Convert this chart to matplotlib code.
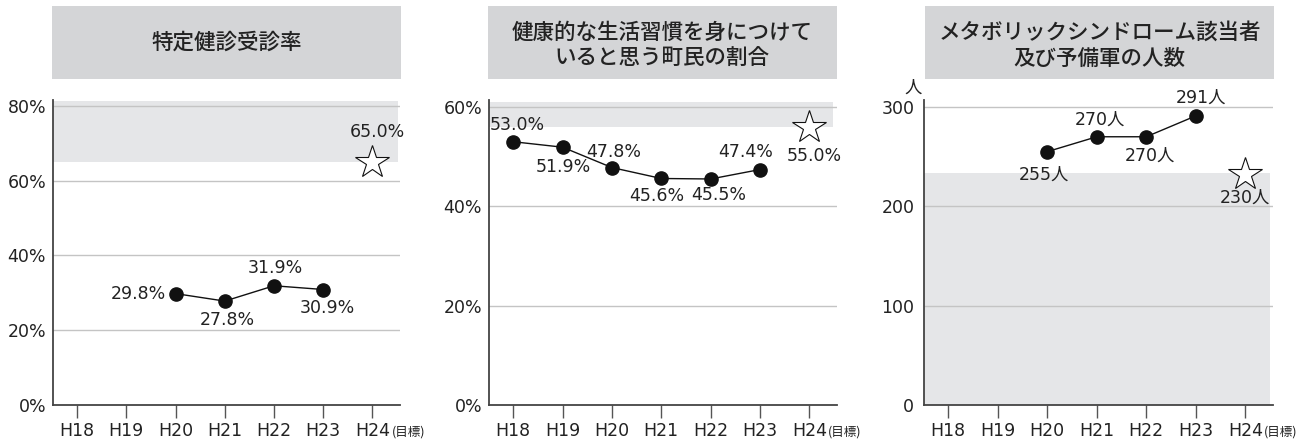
import matplotlib
matplotlib.use("Agg")
import matplotlib.pyplot as plt
from matplotlib.patches import Rectangle

# ---------------- data ----------------
years = ["H18", "H19", "H20", "H21", "H22", "H23", "H24"]
goal_suffix = "(目標)"

titles = ["特定健診受診率",
          "健康的な生活習慣を身につけて\nいると思う町民の割合",
          "メタボリックシンドローム該当者\n及び予備軍の人数"]

# panel 1: 特定健診受診率 (H20-H23), target H24
p1_years = ["H20", "H21", "H22", "H23"]
p1_values = [29.8, 27.8, 31.9, 30.9]
p1_target = 65.0
p1_yticks = [0, 20, 40, 60, 80]

# panel 2: 健康的な生活習慣 (H18-H23), target H24
p2_years = ["H18", "H19", "H20", "H21", "H22", "H23"]
p2_values = [53.0, 51.9, 47.8, 45.6, 45.5, 47.4]
p2_target = 55.0
p2_yticks = [0, 20, 40, 60]

# panel 3: メタボ (H20-H23), target H24
p3_years = ["H20", "H21", "H22", "H23"]
p3_values = [255, 270, 270, 291]
p3_target = 230
p3_yticks = [0, 100, 200, 300]

# ---------------- style ----------------
W, H = 1300, 443
fig = plt.figure(figsize=(W / 100, H / 100), dpi=100)
NUM_FONT = ["DejaVu Sans", "Noto Sans CJK JP"]
CJK_FONT = ["Noto Sans CJK JP", "DejaVu Sans"]
TXT = "#222222"
BOX = "#d4d5d7"
BAND = "#e5e6e8"
GRID = "#c4c4c4"


def fx(px):
    return px / W


def fy(py):
    return 1 - py / H


def make_axes(left, right, top=100, bottom=405):
    return fig.add_axes([fx(left), fy(bottom), fx(right - left), (bottom - top) / H])


def title_box(left, right, text, cy):
    fig.patches.append(Rectangle((fx(left), fy(79)), fx(right - left), 73 / H,
                                 transform=fig.transFigure, facecolor=BOX,
                                 edgecolor="none", zorder=0))
    fig.text(fx((left + right) / 2), fy(cy), text, ha="center", va="center",
             fontsize=15.5, family=CJK_FONT, fontweight="medium", color=TXT,
             linespacing=1.25)


def setup(ax, yticks, ylim, ticklabels, pad_px):
    ax.set_xlim(-0.49, 6.56)
    ax.set_ylim(*ylim)
    ax.set_yticks(yticks)
    ax.set_yticklabels(ticklabels, fontsize=12.5, family=NUM_FONT, color=TXT)
    ax.tick_params(axis="y", length=0, pad=pad_px)
    ax.set_xticks(range(len(years)))
    ax.set_xticklabels(years, fontsize=12.5, family=NUM_FONT, color=TXT)
    ax.tick_params(axis="x", length=9.5, width=1, color="#555555", pad=3,
                   direction="out")
    for s in ["top", "right"]:
        ax.spines[s].set_visible(False)
    for s in ["left", "bottom"]:
        ax.spines[s].set_color("#444444")
        ax.spines[s].set_linewidth(1.3)
    for t in yticks[1:]:
        ax.axhline(t, color=GRID, lw=1, zorder=1)
    ax.set_facecolor("none")
    ax.annotate(goal_suffix, xy=(6, 0), xycoords=("data", "axes fraction"),
                xytext=(19, -27), textcoords="offset pixels", ha="left",
                va="center", fontsize=9, family=CJK_FONT, color=TXT,
                annotation_clip=False)


def plot_series(ax, xs, vals, labels, offsets, tgt, tgt_label, tgt_off):
    xi = [years.index(y) for y in xs]
    ax.plot(xi, vals, color="#111111", lw=1, zorder=3)
    ax.plot(xi, vals, "o", ms=9.5, color="#111111", zorder=4)
    for x, v, lab, (dx, dy, ha) in zip(xi, vals, labels, offsets):
        ax.annotate(lab, xy=(x, v), xytext=(dx, -dy), textcoords="offset pixels",
                    ha=ha, va="center", fontsize=12.5, family=NUM_FONT, color=TXT,
                    zorder=5)
    ax.plot([6], [tgt], marker="*", ms=25, markerfacecolor="white",
            markeredgecolor="#111111", markeredgewidth=0.8, zorder=4,
            clip_on=False)
    ax.annotate(tgt_label, xy=(6, tgt), xytext=(tgt_off[0], -tgt_off[1]),
                textcoords="offset pixels", ha="center", va="center",
                fontsize=12.5, family=NUM_FONT, color=TXT, zorder=5)


# ---------------- panel 1 ----------------
ax1 = make_axes(53, 400)
setup(ax1, p1_yticks, (0, 81.6), [f"{t}%" for t in p1_yticks], 5)
ax1.axhspan(p1_target, 81.2, xmax=0.995, color=BAND, zorder=0, lw=0)
plot_series(ax1, p1_years, p1_values, [f"{v:.1f}%" for v in p1_values],
            [(-10, 0, "right"), (3, 19, "center"), (1, -18, "center"), (4, 18, "center")],
            p1_target, f"{p1_target:.1f}%", (5, -30))
title_box(52, 401, titles[0], 43)

# ---------------- panel 2 ----------------
ax2 = make_axes(489, 837)
setup(ax2, p2_yticks, (0, 61.4), [f"{t}%" for t in p2_yticks], 5)
ax2.axhspan(p2_target + 1, 61.0, xmax=0.988, color=BAND, zorder=0, lw=0)
plot_series(ax2, p2_years, p2_values, [f"{v:.1f}%" for v in p2_values],
            [(4, -17, "center"), (1, 20, "center"), (2, -16, "center"),
             (-5, 18, "center"), (8, 16, "center"), (-14, -18, "center")],
            p2_target + 1, f"{p2_target:.1f}%", (5, 29))
title_box(488, 837, titles[1], 46)

# ---------------- panel 3 ----------------
ax3 = make_axes(924, 1273)
setup(ax3, p3_yticks, (0, 307), [str(t) for t in p3_yticks], 7)
ax3.axhspan(0, p3_target + 4, xmax=0.99, color=BAND, zorder=0, lw=0)
plot_series(ax3, p3_years, p3_values, [f"{v}人" for v in p3_values],
            [(-3, 23, "center"), (3, -17, "center"), (4, 19, "center"), (5, -18, "center")],
            p3_target + 3, f"{p3_target}人", (0, 24))
fig.text(fx(913), fy(88), "人", ha="center", va="center", fontsize=12.5,
         family=CJK_FONT, color=TXT)
title_box(925, 1274, titles[2], 46)

fig.savefig("out.png", dpi=100)
